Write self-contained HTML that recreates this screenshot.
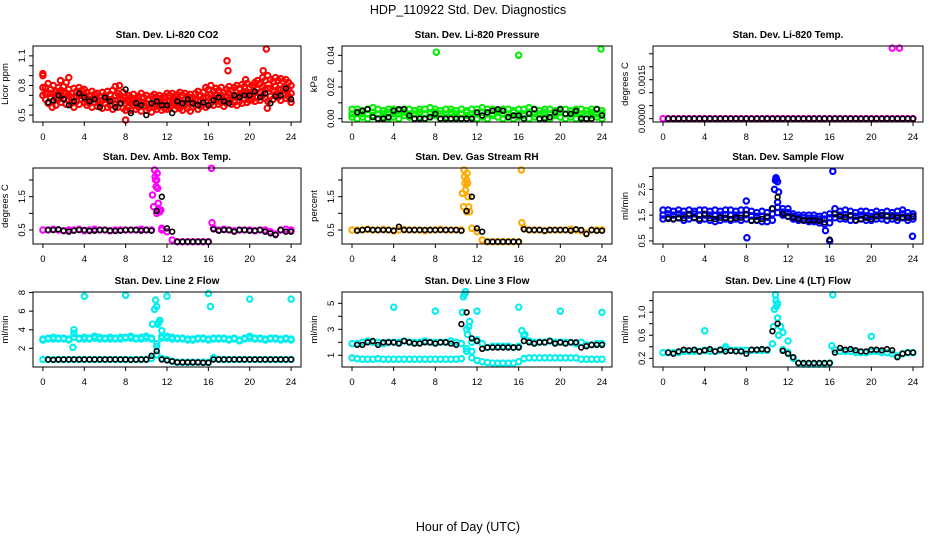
<!DOCTYPE html>
<html><head><meta charset="utf-8"><style>
body{margin:0;background:#fff;}
svg{display:block;font-family:"Liberation Sans",sans-serif;}
</style></head><body>
<svg id="chart" width="936" height="540" viewBox="0 0 936 540" xmlns="http://www.w3.org/2000/svg">
<rect x="0" y="0" width="936" height="540" fill="#fff"/>
<text x="468" y="14" font-size="12.5" text-anchor="middle">HDP_110922  Std. Dev. Diagnostics</text>
<text x="468" y="531" font-size="12.5" text-anchor="middle">Hour of Day (UTC)</text>
</svg>
<script>
// ---- shared x categories ----
const hoursQ = [0,0.25,0.5,0.75,1,1.25,1.5,1.75,2,2.25,2.5,2.75,3,3.25,3.5,3.75,4,4.25,4.5,4.75,5,5.25,5.5,5.75,6,6.25,6.5,6.75,7,7.25,7.5,7.75,8,8.25,8.5,8.75,9,9.25,9.5,9.75,10,10.25,10.5,10.75,11,11.25,11.5,11.75,12,12.25,12.5,12.75,13,13.25,13.5,13.75,14,14.25,14.5,14.75,15,15.25,15.5,15.75,16,16.25,16.5,16.75,17,17.25,17.5,17.75,18,18.25,18.5,18.75,19,19.25,19.5,19.75,20,20.25,20.5,20.75,21,21.25,21.5,21.75,22,22.25,22.5,22.75,23,23.25,23.5,23.75,24];
const hoursC = [0,0.5,1,1.5,2,2.5,3,3.5,4,4.5,5,5.5,6,6.5,7,7.5,8,8.5,9,9.5,10,10.5,11,11.5,12,12.5,13,13.5,14,14.5,15,15.5,16,16.5,17,17.5,18,18.5,19,19.5,20,20.5,21,21.5,22,22.5,23,23.5,24];
const hoursB = [0.5,1,1.5,2,2.5,3,3.5,4,4.5,5,5.5,6,6.5,7,7.5,8,8.5,9,9.5,10,10.5,11,11.5,12,12.5,13,13.5,14,14.5,15,15.5,16,16.5,17,17.5,18,18.5,19,19.5,20,20.5,21,21.5,22,22.5,23,23.5,24];
const xTicks = [0,4,8,12,16,20,24];

// ---- CO2 ----
const co2Hi = [0.90,0.78,0.82,0.76,0.80,0.74,0.78,0.75,0.79,0.83,0.76,0.72,0.77,0.74,0.78,0.75,0.76,0.73,0.70,0.74,0.71,0.72,0.69,0.73,0.70,0.74,0.71,0.75,0.79,0.72,0.70,0.73,0.68,0.70,0.68,0.71,0.67,0.69,0.72,0.68,0.70,0.66,0.69,0.71,0.68,0.70,0.67,0.69,0.72,0.70,0.72,0.69,0.71,0.73,0.70,0.72,0.69,0.71,0.68,0.72,0.74,0.70,0.73,0.78,0.76,0.80,0.74,0.77,0.75,0.78,0.73,0.76,0.79,0.75,0.78,0.80,0.77,0.81,0.79,0.82,0.78,0.80,0.83,0.85,0.82,0.88,0.85,0.90,0.86,0.84,0.88,0.85,0.87,0.84,0.86,0.83,0.80];
const co2Mid = [0.78,0.72,0.72,0.72,0.72,0.67,0.72,0.69,0.73,0.72,0.70,0.67,0.68,0.69,0.70,0.70,0.70,0.66,0.66,0.66,0.67,0.66,0.65,0.65,0.66,0.66,0.65,0.65,0.70,0.65,0.66,0.65,0.62,0.64,0.62,0.65,0.62,0.63,0.63,0.63,0.62,0.61,0.61,0.64,0.62,0.64,0.61,0.63,0.64,0.64,0.66,0.62,0.65,0.65,0.62,0.66,0.63,0.62,0.63,0.66,0.65,0.64,0.67,0.68,0.68,0.71,0.67,0.70,0.68,0.70,0.66,0.69,0.72,0.68,0.70,0.70,0.70,0.71,0.72,0.72,0.71,0.73,0.73,0.76,0.73,0.79,0.76,0.77,0.77,0.75,0.79,0.76,0.76,0.77,0.76,0.76,0.72];
const co2Lo = [0.70,0.66,0.62,0.68,0.64,0.60,0.66,0.63,0.67,0.61,0.65,0.62,0.58,0.64,0.61,0.66,0.63,0.60,0.62,0.58,0.63,0.59,0.61,0.57,0.62,0.58,0.60,0.56,0.61,0.58,0.62,0.57,0.55,0.58,0.55,0.60,0.56,0.58,0.54,0.59,0.55,0.57,0.53,0.58,0.56,0.59,0.55,0.57,0.56,0.58,0.60,0.56,0.59,0.57,0.55,0.60,0.57,0.54,0.58,0.60,0.56,0.59,0.61,0.58,0.60,0.62,0.60,0.64,0.61,0.63,0.59,0.62,0.65,0.61,0.63,0.60,0.64,0.62,0.66,0.63,0.65,0.66,0.64,0.68,0.65,0.70,0.67,0.64,0.69,0.66,0.71,0.68,0.65,0.70,0.67,0.69,0.63];
const co2OutH = [0,0.9,1.7,2.5,7.4,8.0,17.8,17.9,19.6,21.3,21.6,21.7];
const co2OutV = [0.92,0.58,0.85,0.88,0.80,0.45,1.05,0.95,0.86,0.95,1.17,0.57];
const co2Black = [0.63,0.65,0.70,0.66,0.60,0.64,0.72,0.68,0.64,0.66,0.58,0.68,0.64,0.58,0.62,0.76,0.52,0.62,0.60,0.50,0.62,0.64,0.60,0.60,0.52,0.64,0.62,0.66,0.62,0.60,0.63,0.60,0.65,0.68,0.64,0.62,0.70,0.68,0.70,0.70,0.74,0.68,0.72,0.62,0.69,0.70,0.77,0.66];

// ---- Pressure ----
const presHi = [0.006,0.006,0.005,0.006,0.007,0.006,0.005,0.006,0.006,0.005,0.006,0.006,0.005,0.006,0.006,0.007,0.006,0.005,0.006,0.006,0.005,0.006,0.005,0.006,0.006,0.007,0.006,0.006,0.005,0.006,0.006,0.005,0.006,0.006,0.007,0.006,0.005,0.006,0.006,0.005,0.006,0.006,0.005,0.006,0.006,0.005,0.006,0.006,0.005];
const presMid = [0.003,0.004,0.003,0.003,0.004,0.003,0.003,0.004,0.003,0.003,0.004,0.003,0.003,0.004,0.003,0.003,0.004,0.003,0.003,0.004,0.003,0.003,0.004,0.003,0.003,0.004,0.003,0.003,0.004,0.003,0.003,0.004,0.003,0.003,0.004,0.003,0.003,0.004,0.003,0.003,0.004,0.003,0.003,0.004,0.003,0.003,0.004,0.003,0.003];
const presLo = [0.001,0.000,0.001,0.000,0.002,0.000,0.001,0.000,0.001,0.000,0.002,0.001,0.000,0.001,0.000,0.001,0.002,0.000,0.001,0.000,0.001,0.000,0.002,0.001,0.000,0.001,0.000,0.002,0.001,0.000,0.001,0.000,0.001,0.002,0.000,0.001,0.000,0.001,0.000,0.002,0.001,0.000,0.001,0.000,0.001,0.000,0.002,0.001,0.000];
const presOutH = [8.1,16,23.9];
const presOutV = [0.042,0.040,0.044];
const presBlack = [0.004,0.005,0.006,0.001,0.000,0.000,0.001,0.005,0.006,0.006,0.002,0.000,0.000,0.000,0.001,0.003,0.000,0.000,0.000,0.000,0.000,0.000,0.000,0.004,0.002,0.004,0.005,0.006,0.005,0.001,0.002,0.002,0.000,0.003,0.006,0.000,0.000,0.001,0.004,0.006,0.003,0.003,0.005,0.000,0.000,0.000,0.006,0.002];

// ---- Li-820 Temp ----
const tempVals = [0,0,0,0,0,0,0,0,0,0,0,0,0,0,0,0,0,0,0,0,0,0,0,0,0,0,0,0,0,0,0,0,0,0,0,0,0,0,0,0,0,0,0,0,0,0,0,0,0];
const tempOutH = [22.0,22.7];
const tempOutV = [0.00272,0.00272];
const tempBlack = [0,0,0,0,0,0,0,0,0,0,0,0,0,0,0,0,0,0,0,0,0,0,0,0,0,0,0,0,0,0,0,0,0,0,0,0,0,0,0,0,0,0,0,0,0,0,0,0];

// ---- Amb Box Temp ----
const ambVals = [0.5,0.5,0.52,0.5,0.48,0.5,0.5,0.52,0.48,0.5,0.52,0.5,0.5,0.48,0.5,0.5,0.5,0.5,0.5,0.52,0.5,0.5,2.0,0.5,0.45,0.2,0.15,0.15,0.15,0.15,0.15,0.15,0.15,0.55,0.5,0.52,0.5,0.48,0.5,0.5,0.5,0.48,0.5,0.5,0.45,0.38,0.5,0.52,0.5];
const ambOutH = [10.6,10.7,10.8,10.85,10.9,10.95,11.0,11.05,11.1,11.15,11.2,11.3,11.4,11.5,16.3,16.35];
const ambOutV = [1.55,1.2,2.3,2.1,2.0,1.8,1.0,2.2,1.75,1.3,1.1,1.05,1.1,0.55,2.35,0.72];
const ambBlack = [0.5,0.5,0.52,0.48,0.45,0.48,0.5,0.5,0.47,0.48,0.5,0.5,0.48,0.47,0.48,0.5,0.5,0.5,0.48,0.5,0.48,1.07,1.5,0.55,0.45,0.15,0.15,0.15,0.15,0.15,0.15,0.15,0.52,0.48,0.5,0.5,0.45,0.5,0.5,0.48,0.48,0.5,0.45,0.4,0.35,0.5,0.45,0.45];

// ---- Gas Stream RH ----
const rhVals = [0.5,0.5,0.5,0.52,0.5,0.5,0.52,0.5,0.48,0.5,0.52,0.5,0.5,0.5,0.48,0.5,0.5,0.52,0.5,0.5,0.5,0.5,2.0,0.55,0.45,0.2,0.15,0.15,0.15,0.15,0.15,0.15,0.15,0.55,0.5,0.5,0.5,0.48,0.5,0.5,0.5,0.5,0.52,0.5,0.48,0.4,0.5,0.5,0.5];
const rhOutH = [10.6,10.7,10.75,10.8,10.85,10.9,11.0,11.05,11.1,11.15,11.2,11.3,16.25,16.3];
const rhOutV = [1.6,1.2,2.3,2.1,1.9,1.7,1.05,2.2,1.9,1.5,1.2,1.05,2.3,0.72];
const rhBlack = [0.48,0.5,0.52,0.5,0.5,0.5,0.5,0.48,0.6,0.5,0.5,0.5,0.5,0.5,0.5,0.5,0.5,0.5,0.5,0.5,0.48,1.07,1.5,0.55,0.45,0.15,0.15,0.15,0.15,0.15,0.15,0.15,0.52,0.5,0.5,0.5,0.48,0.5,0.5,0.5,0.5,0.48,0.52,0.5,0.38,0.5,0.48,0.48];

// ---- Sample Flow ----
const sfHi = [1.7,1.7,1.65,1.7,1.65,1.7,1.65,1.7,1.7,1.65,1.7,1.65,1.7,1.7,1.65,1.7,1.7,1.65,1.6,1.65,1.6,1.75,2.0,1.75,1.75,1.55,1.5,1.5,1.5,1.5,1.45,1.5,1.55,1.75,1.65,1.7,1.65,1.6,1.65,1.65,1.6,1.65,1.6,1.65,1.6,1.65,1.7,1.6,1.55];
const sfMid = [1.5,1.55,1.5,1.55,1.5,1.5,1.55,1.5,1.5,1.5,1.48,1.5,1.52,1.5,1.5,1.5,1.52,1.48,1.45,1.45,1.42,1.55,1.8,1.62,1.6,1.45,1.4,1.4,1.38,1.38,1.35,1.35,1.4,1.55,1.5,1.52,1.48,1.45,1.5,1.48,1.45,1.5,1.48,1.48,1.48,1.48,1.55,1.45,1.45];
const sfLo = [1.35,1.4,1.35,1.4,1.3,1.35,1.4,1.3,1.35,1.3,1.25,1.3,1.35,1.3,1.35,1.3,1.35,1.3,1.3,1.25,1.25,1.3,1.6,1.5,1.45,1.35,1.3,1.3,1.25,1.25,1.2,1.15,1.2,1.4,1.35,1.35,1.3,1.3,1.35,1.3,1.3,1.35,1.35,1.3,1.35,1.3,1.4,1.3,1.35];
const sfOutH = [8,8.05,10.7,10.8,10.85,10.9,11.0,11.1,15.6,16,16.3,23.95];
const sfOutV = [2.05,0.62,2.5,2.85,2.95,2.9,2.8,2.4,0.9,0.5,3.2,0.68];
const sfBlack = [1.35,1.35,1.38,1.38,1.55,1.4,1.35,1.55,1.38,1.35,1.4,1.4,1.35,1.4,1.4,1.55,1.28,1.3,1.35,1.45,1.75,2.2,1.55,1.45,1.4,1.35,1.3,1.3,1.3,1.28,1.22,0.55,1.55,1.45,1.42,1.5,1.3,1.35,1.4,1.35,1.45,1.5,1.45,1.45,1.4,1.42,1.4,1.45];

// ---- Line 2 Flow ----
const l2Hi = [3.0,3.1,3.2,3.1,3.1,3.0,3.6,3.1,3.2,3.1,3.3,3.2,3.1,3.2,3.1,3.2,3.2,3.3,3.1,3.2,3.3,3.1,2.5,3.3,3.3,3.2,3.1,3.1,3.0,3.0,3.1,3.1,3.0,3.1,3.1,3.1,3.0,3.1,2.9,3.1,3.3,3.1,3.1,3.0,3.1,3.1,3.0,3.1,3.0];
const l2HiB = [2.9,3.0,3.0,3.0,3.0,2.9,3.2,3.0,3.0,3.0,3.1,3.0,3.0,3.0,3.0,3.0,3.1,3.1,3.0,3.0,3.1,3.0,2.2,3.1,3.1,3.0,3.0,3.0,2.9,2.9,3.0,3.0,2.9,3.0,3.0,3.0,2.9,3.0,2.8,3.0,3.1,3.0,3.0,2.9,3.0,3.0,2.9,3.0,2.9];
const l2Lo = [0.8,0.8,0.8,0.8,0.8,0.8,0.8,0.8,0.8,0.8,0.8,0.8,0.8,0.8,0.8,0.8,0.8,0.8,0.8,0.8,0.8,0.9,1.3,0.9,0.8,0.6,0.5,0.5,0.5,0.5,0.5,0.5,0.5,1.0,0.8,0.8,0.8,0.8,0.8,0.8,0.8,0.8,0.8,0.8,0.8,0.8,0.8,0.8,0.8];
const l2OutH = [2.9,3.0,4,8,10.6,10.8,10.9,11.0,11.1,11.2,11.3,11.5,12,16,16.2,20,24];
const l2OutV = [2.1,4.0,7.6,7.7,4.6,6.2,7.2,6.5,4.6,4.8,5.0,3.9,7.6,7.9,6.5,7.3,7.3];
const l2Black = [0.8,0.75,0.8,0.8,0.8,0.8,0.8,0.8,0.8,0.8,0.8,0.8,0.8,0.8,0.8,0.8,0.75,0.8,0.8,0.8,1.2,1.7,0.8,0.7,0.6,0.5,0.5,0.5,0.5,0.5,0.45,0.45,0.8,0.8,0.8,0.8,0.8,0.8,0.8,0.8,0.8,0.8,0.8,0.8,0.8,0.8,0.8,0.8];

// ---- Line 3 Flow ----
const l3Hi = [1.9,1.9,2.0,2.1,2.0,2.0,1.9,2.0,2.0,2.0,2.1,2.0,2.0,2.0,2.1,2.0,2.0,2.0,2.0,2.1,2.0,1.9,1.5,2.0,2.2,1.9,1.6,1.7,1.7,1.7,1.7,1.6,1.7,2.5,2.1,2.0,2.0,2.0,2.1,2.0,2.0,2.0,2.0,1.9,2.0,1.8,1.8,1.9,1.9];
const l3Lo = [0.8,0.75,0.7,0.7,0.7,0.75,0.7,0.7,0.7,0.7,0.7,0.7,0.7,0.7,0.7,0.7,0.7,0.7,0.7,0.7,0.7,0.75,1.3,0.8,0.6,0.5,0.45,0.4,0.4,0.4,0.4,0.4,0.5,0.75,0.8,0.8,0.8,0.8,0.8,0.8,0.8,0.8,0.8,0.8,0.7,0.7,0.7,0.7,0.7];
const l3OutH = [4,8,10.6,10.7,10.8,10.9,11.0,11.1,11.2,11.3,11.5,12,16,16.3,16.6,20,24];
const l3OutV = [4.7,4.4,4.3,5.5,5.7,5.9,3.0,2.6,3.2,3.6,1.3,4.4,4.7,2.9,2.6,4.4,4.3];
const l3Black = [1.8,1.8,2.0,2.1,1.8,2.0,2.0,2.0,1.9,2.1,2.0,1.9,1.9,2.0,2.0,1.9,2.0,2.0,1.9,1.8,3.4,4.3,2.3,2.1,1.5,1.6,1.6,1.6,1.6,1.6,1.6,1.6,2.1,2.0,1.9,2.0,2.0,2.1,1.9,2.0,1.9,2.0,2.0,1.6,1.7,1.8,1.8,1.8];

// ---- Line 4 Flow ----
const l4Vals = [0.3,0.3,0.3,0.3,0.32,0.32,0.32,0.32,0.34,0.32,0.32,0.34,0.36,0.34,0.34,0.34,0.34,0.34,0.34,0.34,0.34,0.45,0.9,0.35,0.3,0.2,0.12,0.1,0.1,0.1,0.1,0.1,0.12,0.35,0.32,0.32,0.32,0.3,0.3,0.3,0.32,0.32,0.3,0.3,0.28,0.24,0.28,0.3,0.3];
const l4OutH = [4,6,10.6,10.7,10.8,10.85,10.9,11.0,11.1,11.3,11.5,12,16.2,16.3,20];
const l4OutV = [0.68,0.4,0.75,1.05,1.3,1.2,1.1,1.15,0.6,0.75,0.65,0.5,0.42,1.3,0.58];
const l4Black = [0.3,0.28,0.32,0.35,0.34,0.35,0.32,0.34,0.36,0.32,0.35,0.32,0.33,0.32,0.32,0.28,0.35,0.35,0.36,0.35,0.67,0.8,0.33,0.28,0.22,0.12,0.12,0.12,0.12,0.12,0.12,0.12,0.3,0.38,0.35,0.36,0.34,0.32,0.32,0.35,0.35,0.34,0.36,0.34,0.22,0.28,0.3,0.3];

const panels = [
 {name:'co2',title:'Stan. Dev. Li-820 CO2',ylab:'Licor ppm',col:0,row:0,ymin:0.43,ymax:1.2,ticks:[0.5,0.6,0.7,0.8,0.9,1.0,1.1],labels:[[0.5,'0.5'],[0.8,'0.8'],[1.1,'1.1']],color:'#ff0000',
  series:[[hoursQ,co2Hi],[hoursQ,co2Lo],[hoursQ,co2Mid],[co2OutH,co2OutV]],black:co2Black},
 {name:'pressure',title:'Stan. Dev. Li-820 Pressure',ylab:'kPa',col:1,row:0,ymin:-0.0021,ymax:0.0459,ticks:[0,0.01,0.02,0.03,0.04],labels:[[0,'0.00'],[0.02,'0.02'],[0.04,'0.04']],color:'#00ee00',
  series:[[hoursC,presHi],[hoursC,presMid],[hoursC,presLo],[presOutH,presOutV]],black:presBlack},
 {name:'li820-temp',title:'Stan. Dev. Li-820 Temp.',ylab:'degrees C',col:2,row:0,ymin:-0.000130,ymax:0.0028,ticks:[0,0.0005,0.001,0.0015,0.002,0.0025],labels:[[0,'0.0000'],[0.0015,'0.0015']],color:'#ff00ff',
  series:[[hoursC,tempVals],[tempOutH,tempOutV]],black:tempBlack},
 {name:'amb-box-temp',title:'Stan. Dev. Amb. Box Temp.',ylab:'degrees C',col:0,row:1,ymin:0.08,ymax:2.36,ticks:[0.5,1.0,1.5,2.0],labels:[[0.5,'0.5'],[1.5,'1.5']],color:'#ff00ff',
  series:[[hoursC,ambVals],[ambOutH,ambOutV]],black:ambBlack},
 {name:'gas-stream-rh',title:'Stan. Dev. Gas Stream RH',ylab:'percent',col:1,row:1,ymin:0.08,ymax:2.36,ticks:[0.5,1.0,1.5,2.0],labels:[[0.5,'0.5'],[1.5,'1.5']],color:'#ffaa00',
  series:[[hoursC,rhVals],[rhOutH,rhOutV]],black:rhBlack},
 {name:'sample-flow',title:'Stan. Dev. Sample Flow',ylab:'ml/min',col:2,row:1,ymin:0.38,ymax:3.33,ticks:[0.5,1.0,1.5,2.0,2.5,3.0],labels:[[0.5,'0.5'],[1.5,'1.5'],[2.5,'2.5']],color:'#0000ff',
  series:[[hoursC,sfHi],[hoursC,sfMid],[hoursC,sfLo],[sfOutH,sfOutV]],black:sfBlack},
 {name:'line2-flow',title:'Stan. Dev. Line 2 Flow',ylab:'ml/min',col:0,row:2,ymin:-0.01,ymax:8.06,ticks:[2,4,6,8],labels:[[2,'2'],[4,'4'],[6,'6'],[8,'8']],color:'#00eeee',
  series:[[hoursC,l2Hi],[hoursC,l2HiB],[hoursC,l2Lo],[l2OutH,l2OutV]],black:l2Black},
 {name:'line3-flow',title:'Stan. Dev. Line 3 Flow',ylab:'ml/min',col:1,row:2,ymin:0.1,ymax:5.87,ticks:[1,2,3,4,5],labels:[[1,'1'],[3,'3'],[5,'5']],color:'#00eeee',
  series:[[hoursC,l3Hi],[hoursC,l3Lo],[l3OutH,l3OutV]],black:l3Black},
 {name:'line4-flow',title:'Stan. Dev. Line 4 (LT) Flow',ylab:'ml/min',col:2,row:2,ymin:0.05,ymax:1.35,ticks:[0.2,0.4,0.6,0.8,1.0,1.2],labels:[[0.2,'0.2'],[0.6,'0.6'],[1.0,'1.0']],color:'#00eeee',
  series:[[hoursC,l4Vals],[l4OutH,l4OutV]],black:l4Black}
];

const NS='http://www.w3.org/2000/svg';
const svg=document.getElementById('chart');
const colLeft=[33,342,653], colRight=[301,612,923];
const rowTop=[46,168,292], rowBot=[122,244,367];
function mk(tag,attrs,parent){const e=document.createElementNS(NS,tag);for(const k in attrs)e.setAttribute(k,attrs[k]);(parent||svg).appendChild(e);return e;}

panels.forEach(p=>{
  const L=colLeft[p.col],R=colRight[p.col],T=rowTop[p.row],B=rowBot[p.row];
  const xs=h=>L+(h+0.96)/25.92*(R-L);
  const ys=v=>B-(v-p.ymin)/(p.ymax-p.ymin)*(B-T);
  const g=mk('g',{});
  
  
  const t=mk('text',{x:(L+R)/2,y:T-8,'font-size':10,'font-weight':'bold','text-anchor':'middle'},g);
  
  
  t.textContent=p.title;
  const yl=mk('text',{x:0,y:0,'font-size':9.5,'text-anchor':'middle',transform:`translate(${L-25},${(T+B)/2}) rotate(-90)`},g);
  
  
  yl.textContent=p.ylab;
  const pts=mk('g',{fill:'none','stroke-width':2.1},g);
  
  
  p.series.forEach(([hs,vs])=>{
    vs.forEach((v,i)=>{
      const c=mk('circle',{cx:xs(hs[i]).toFixed(1),cy:ys(v).toFixed(1),r:2.7,stroke:p.color},pts);
      
      
    });
  });
  const bk=mk('g',{fill:'none','stroke-width':1.6,stroke:'#000'},g);
  
  
  p.black.forEach((v,i)=>{
    const c=mk('circle',{cx:xs(hoursB[i]).toFixed(1),cy:ys(v).toFixed(1),r:2.4},bk);
    
    
  });
  const box=mk('rect',{x:L,y:T,width:R-L,height:B-T,fill:'none',stroke:'#000','stroke-width':1},g);
  
  
  xTicks.forEach(h=>{
    mk('line',{x1:xs(h),x2:xs(h),y1:B,y2:B+4,stroke:'#000'},g);
    const tl=mk('text',{x:xs(h),y:B+18,'font-size':9.5,'text-anchor':'middle'},g);
    
    
    tl.textContent=h;
  });
  p.ticks.forEach(v=>{mk('line',{x1:L-4,x2:L,y1:ys(v),y2:ys(v),stroke:'#000'},g);});
  p.labels.forEach(([v,s])=>{
    const tl=mk('text',{x:0,y:0,'font-size':9.5,'text-anchor':'middle',transform:`translate(${L-8},${ys(v)}) rotate(-90)`},g);
    
    
    tl.textContent=s;
  });
});
</script>
</body></html>
